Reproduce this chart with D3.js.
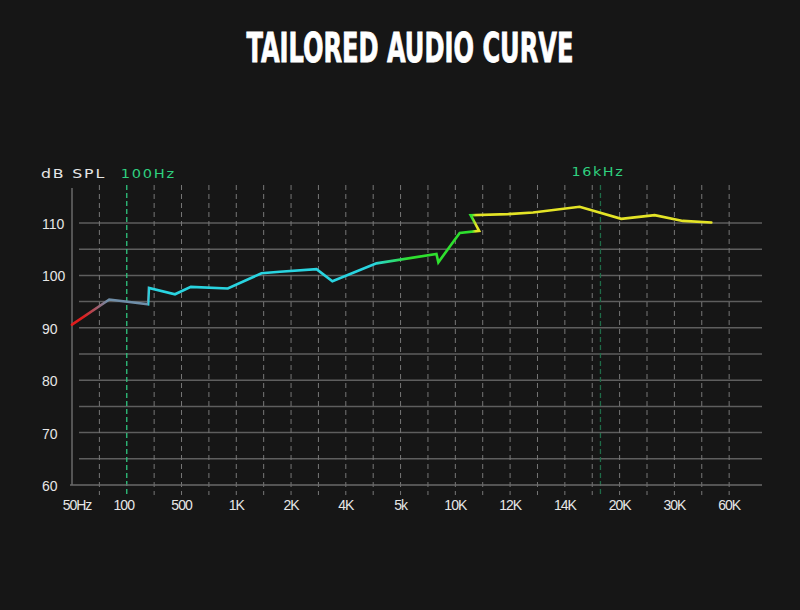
<!DOCTYPE html>
<html lang="en">
<head>
    <meta charset="UTF-8">
    <title>Tailored Audio Curve</title>
    <script src="https://cdnjs.cloudflare.com/ajax/libs/d3/7.8.5/d3.min.js"></script>
    <style>
        html, body { margin: 0; padding: 0; background: #161616; }
        svg { display: block; }
    </style>
</head>
<body>
    <svg id="chart" width="800" height="610"></svg>

    <script>
        // x positions are slots along the band axis (one slot per dashed line)
        const tickLabels = ['50Hz', '100', '500', '1K', '2K', '4K', '5k', '10K', '12K', '14K', '20K', '30K', '60K'];
        const yTicks = [60, 70, 80, 90, 100, 110];
        const curveSlot = [0, 1.36, 2.78, 2.81, 3.76, 4.34, 5.69, 6.92, 7.59, 8.93, 9.51, 11.12,
                           13.31, 13.38, 14.16, 14.87, 14.56, 15.92, 16.84, 18.54, 20.06, 21.28, 22.31, 23.35];
        const curveDb = [90.6, 95.4, 94.5, 97.6, 96.4, 97.8, 97.5, 100.4, 100.7, 101.2, 98.9, 102.3,
                         104.1, 102.5, 108.1, 108.5, 111.5, 111.7, 112.0, 113.1, 110.8, 111.5, 110.4, 110.1];
        const markerLabels = ['100Hz', '16kHz'];
        const markerSlots = [2, 19.3];
        const colorSlots = [0, 0.4, 1.3, 2.75, 2.8, 11.0, 12.3, 14.6, 14.75];
        const colorStops = ['#e01c1c', '#e01c1c', '#6f8ea8', '#6f8ea8', '#29d4e0', '#29d4e0', '#2ee02e', '#2ee02e', '#e4e426'];

        const svg = d3.select('#chart');
        const plotLeft = 72, plotRight = 762, plotBottom = 485, plotTop = 185;

        const x = d3.scaleLinear().domain([0, 25.2]).range([plotLeft, plotRight]);
        const y = d3.scaleLinear().domain([60, 110]).range([plotBottom, 223]);

        // title
        svg.append('text')
            .attr('x', 410).attr('y', 62)
            .attr('text-anchor', 'middle')
            .attr('fill', '#ffffff')
            .attr('stroke', '#ffffff')
            .attr('stroke-width', 0.8)
            .style('font-family', '"DejaVu Sans Condensed", "Liberation Sans Narrow", sans-serif')
            .style('font-weight', 'bold')
            .style('font-stretch', 'condensed')
            .style('font-size', '40px')
            .attr('textLength', 327)
            .attr('lengthAdjust', 'spacingAndGlyphs')
            .text('TAILORED AUDIO CURVE');

        // horizontal grid every 5 dB
        const hLines = d3.range(65, 111, 5);
        svg.append('g')
            .selectAll('line')
            .data(hLines)
            .join('line')
            .attr('x1', plotLeft + 7).attr('x2', plotRight)
            .attr('y1', d => y(d)).attr('y2', d => y(d))
            .attr('stroke', '#5e5e5e')
            .attr('stroke-width', 1.5);

        // vertical dashed grid
        const vSlots = d3.range(1, 25).filter(s => s !== markerSlots[0]);
        svg.append('g')
            .selectAll('line')
            .data(vSlots)
            .join('line')
            .attr('x1', d => x(d)).attr('x2', d => x(d))
            .attr('y1', plotTop).attr('y2', plotBottom + 10)
            .attr('stroke', '#777')
            .attr('stroke-width', 1)
            .attr('stroke-dasharray', '5,4');

        // marker lines
        svg.append('g')
            .selectAll('line')
            .data(markerSlots)
            .join('line')
            .attr('x1', d => x(d)).attr('x2', d => x(d))
            .attr('y1', plotTop).attr('y2', plotBottom + 10)
            .attr('stroke', (d, i) => i === 0 ? '#2fc47f' : '#1f6b48')
            .attr('stroke-width', 1.3)
            .attr('stroke-dasharray', '5,3');

        // axes lines
        svg.append('line')
            .attr('x1', plotLeft).attr('x2', plotLeft)
            .attr('y1', 188).attr('y2', plotBottom)
            .attr('stroke', '#6a6a6a').attr('stroke-width', 1.5);
        svg.append('line')
            .attr('x1', plotLeft - 2).attr('x2', plotRight)
            .attr('y1', plotBottom).attr('y2', plotBottom)
            .attr('stroke', '#6a6a6a').attr('stroke-width', 1.5);

        const labelFont = 'Arial, "Liberation Sans", sans-serif';
        const headFont = '"DejaVu Sans", Verdana, sans-serif';

        // y tick labels (left aligned)
        svg.append('g')
            .selectAll('text')
            .data(yTicks)
            .join('text')
            .attr('x', 42)
            .attr('y', d => y(d) + 6)
            .attr('fill', '#e6e6e6')
            .style('font-family', labelFont)
            .style('font-size', '14px')
            .text(d => d);

        // x tick labels
        svg.append('g')
            .selectAll('text')
            .data(tickLabels)
            .join('text')
            .attr('x', (d, i) => x(i * 2) + (i === 0 ? 5 : i === 1 ? -3 : 0))
            .attr('y', 510)
            .attr('text-anchor', 'middle')
            .attr('fill', '#e6e6e6')
            .style('font-family', labelFont)
            .style('font-size', '14px')
            .style('letter-spacing', '-1px')
            .text(d => d);

        // header labels
        svg.append('text')
            .attr('x', 41).attr('y', 177.5)
            .attr('fill', '#e6e6e6')
            .style('font-family', headFont)
            .style('font-size', '13px')
            .style('letter-spacing', '1.5px')
            .attr('textLength', 65)
            .attr('lengthAdjust', 'spacingAndGlyphs')
            .text('dB SPL');

        svg.append('g')
            .selectAll('text')
            .data(markerLabels)
            .join('text')
            .attr('x', (d, i) => i === 0 ? x(markerSlots[i]) - 6 : x(markerSlots[i]) - 29)
            .attr('y', (d, i) => i === 0 ? 177.5 : 175.5)
            .attr('fill', '#2fd07f')
            .style('font-family', headFont)
            .style('font-size', '13px')
            .style('letter-spacing', '1.5px')
            .attr('textLength', (d, i) => i === 0 ? 55 : 53)
            .attr('lengthAdjust', 'spacingAndGlyphs')
            .text(d => d);

        // curve gradient along x
        const grad = svg.append('defs').append('linearGradient')
            .attr('id', 'curveGrad')
            .attr('gradientUnits', 'userSpaceOnUse')
            .attr('x1', x(0)).attr('x2', x(24))
            .attr('y1', 0).attr('y2', 0);
        grad.selectAll('stop')
            .data(colorSlots)
            .join('stop')
            .attr('offset', d => d / 24)
            .attr('stop-color', (d, i) => colorStops[i]);

        const points = curveSlot.map((s, i) => [s, curveDb[i]]);
        const line = d3.line()
            .x(d => x(d[0]))
            .y(d => y(d[1]));

        svg.append('path')
            .datum(points)
            .attr('d', line)
            .attr('fill', 'none')
            .attr('stroke', 'url(#curveGrad)')
            .attr('stroke-width', 2.6)
            .attr('stroke-linejoin', 'miter')
            .attr('stroke-linecap', 'round');
    </script>
</body>
</html>
